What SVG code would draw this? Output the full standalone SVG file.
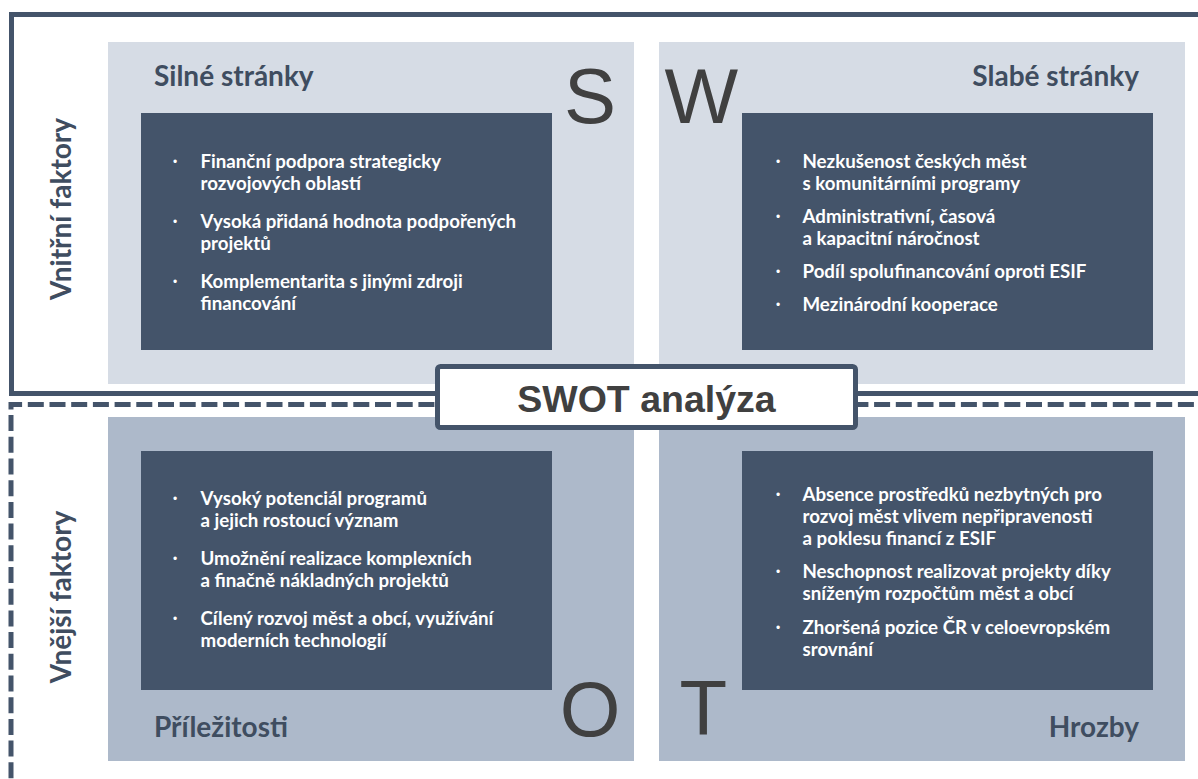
<svg xmlns="http://www.w3.org/2000/svg" width="1198" height="779" viewBox="0 0 1198 779">
<style>
.lt{fill:#D6DCE5}
.lb{fill:#ADB9CA}
.dk{fill:#44546A}
.hd{font-family:Lato,"Open Sans","Liberation Sans",sans-serif;font-weight:700;font-size:28px;fill:#3F4D60}
.bt{font-family:Lato,"Open Sans","Liberation Sans",sans-serif;font-weight:700;font-size:18.7px;fill:#FFFFFF}
.bu{font-family:"Liberation Sans",sans-serif;font-size:12px;fill:#FFFFFF;text-anchor:middle}
.big{font-family:"Liberation Sans",Arial,sans-serif;font-size:78px;fill:#404040;text-anchor:middle}
.ttl{font-family:"Liberation Sans",Arial,sans-serif;font-weight:700;font-size:37.5px;fill:#404040;text-anchor:middle}
.frame{fill:none;stroke:#44546A;stroke-width:5}
.dash{stroke-dasharray:16 5.7}
</style>
<rect width="1198" height="779" fill="#FFFFFF"/>
<g id="frames">
<rect class="frame" x="11.5" y="14.5" width="1200" height="379"/>
<path class="frame dash" d="M11 800 V404.5 H1210"/>
</g>
<g id="axis-labels">
<text class="hd" text-anchor="middle" transform="translate(71,209) rotate(-90)">Vnitřní faktory</text>
<text class="hd" text-anchor="middle" transform="translate(71,597) rotate(-90)">Vnější faktory</text>
</g>
<g id="strengths">
<rect class="lt" x="108" y="42" width="526" height="342"/>
<rect class="dk" x="141" y="113" width="411" height="237"/>
<text class="hd" x="154" y="86">Silné stránky</text>
<text class="big" x="590" y="122.5">S</text>
<text class="bu" x="175" y="166">•</text>
<text class="bt" x="200.5" y="168">Finanční podpora strategicky</text>
<text class="bt" x="200.5" y="190">rozvojových oblastí</text>
<text class="bu" x="175" y="226">•</text>
<text class="bt" x="200.5" y="228">Vysoká přidaná hodnota podpořených</text>
<text class="bt" x="200.5" y="250">projektů</text>
<text class="bu" x="175" y="286">•</text>
<text class="bt" x="200.5" y="288">Komplementarita s jinými zdroji</text>
<text class="bt" x="200.5" y="310">financování</text>
</g>
<g id="weaknesses">
<rect class="lt" x="659" y="42" width="526" height="342"/>
<rect class="dk" x="742" y="113" width="411" height="237"/>
<text class="hd" x="1139" y="86" text-anchor="end">Slabé stránky</text>
<text class="big" x="701.3" y="122.5">W</text>
<text class="bu" x="778" y="166">•</text>
<text class="bt" x="802.5" y="168">Nezkušenost českých měst</text>
<text class="bt" x="802.5" y="190">s komunitárními programy</text>
<text class="bu" x="778" y="221">•</text>
<text class="bt" x="802.5" y="223">Administrativní, časová</text>
<text class="bt" x="802.5" y="245">a kapacitní náročnost</text>
<text class="bu" x="778" y="276">•</text>
<text class="bt" x="802.5" y="278">Podíl spolufinancování oproti ESIF</text>
<text class="bu" x="778" y="309">•</text>
<text class="bt" x="802.5" y="311">Mezinárodní kooperace</text>
</g>
<g id="opportunities">
<rect class="lb" x="108" y="417" width="526" height="344"/>
<rect class="dk" x="141" y="451" width="411" height="239"/>
<text class="hd" x="154" y="737">Příležitosti</text>
<text class="big" x="590" y="736">O</text>
<text class="bu" x="175" y="503">•</text>
<text class="bt" x="200.5" y="505">Vysoký potenciál programů</text>
<text class="bt" x="200.5" y="527">a jejich rostoucí význam</text>
<text class="bu" x="175" y="563">•</text>
<text class="bt" x="200.5" y="565">Umožnění realizace komplexních</text>
<text class="bt" x="200.5" y="587">a finačně nákladných projektů</text>
<text class="bu" x="175" y="623">•</text>
<text class="bt" x="200.5" y="625">Cílený rozvoj měst a obcí, využívání</text>
<text class="bt" x="200.5" y="647">moderních technologií</text>
</g>
<g id="threats">
<rect class="lb" x="659" y="417" width="526" height="344"/>
<rect class="dk" x="742" y="451" width="411" height="239"/>
<text class="hd" x="1139" y="737" text-anchor="end">Hrozby</text>
<text class="big" x="703.3" y="735">T</text>
<text class="bu" x="778" y="499">•</text>
<text class="bt" x="802.5" y="501">Absence prostředků nezbytných pro</text>
<text class="bt" x="802.5" y="523">rozvoj měst vlivem nepřipravenosti</text>
<text class="bt" x="802.5" y="545">a poklesu financí z ESIF</text>
<text class="bu" x="778" y="576">•</text>
<text class="bt" x="802.5" y="578">Neschopnost realizovat projekty díky</text>
<text class="bt" x="802.5" y="600">sníženým rozpočtům měst a obcí</text>
<text class="bu" x="778" y="632">•</text>
<text class="bt" x="802.5" y="634">Zhoršená pozice ČR v celoevropském</text>
<text class="bt" x="802.5" y="656">srovnání</text>
</g>
<g id="title">
<rect x="437.5" y="366.5" width="418" height="61" rx="3" fill="#FFFFFF" stroke="#44546A" stroke-width="5"/>
<text class="ttl" x="646.5" y="412">SWOT analýza</text>
</g>
</svg>
